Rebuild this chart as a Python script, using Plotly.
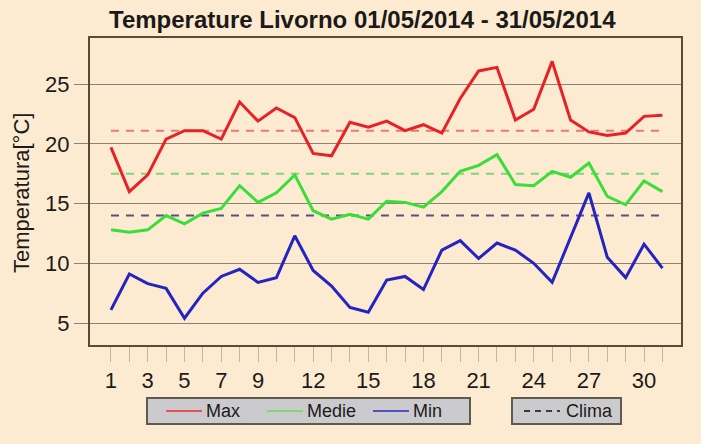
import plotly.graph_objects as go

# Daily temperatures, Livorno, May 2014
days = list(range(1, 32))
t_max = [19.7, 16.0, 17.4, 20.4, 21.1, 21.1, 20.4, 23.5, 21.9, 23.0, 22.2, 19.2, 19.0, 21.8, 21.4, 21.9,
         21.1, 21.6, 20.9, 23.8, 26.1, 26.4, 22.0, 22.9, 26.9, 22.0, 21.0, 20.7, 20.9, 22.3, 22.4]
t_medie = [12.8, 12.6, 12.8, 14.0, 13.3, 14.2, 14.6, 16.5, 15.1, 15.9, 17.4, 14.4, 13.7, 14.1, 13.7, 15.2,
           15.1, 14.7, 16.0, 17.7, 18.2, 19.1, 16.6, 16.5, 17.7, 17.2, 18.4, 15.6, 14.9, 16.9, 16.0]
t_min = [6.1, 9.1, 8.3, 7.9, 5.4, 7.5, 8.9, 9.5, 8.4, 8.8, 12.3, 9.4, 8.1, 6.3, 5.9, 8.6,
         8.9, 7.8, 11.1, 11.9, 10.4, 11.7, 11.1, 10.0, 8.4, 12.2, 15.9, 10.5, 8.8, 11.6, 9.6]

# Climatological reference values
clima_max = 21.1
clima_medie = 17.5
clima_min = 14.0

x_labels = [1, 3, 5, 7, 9, 12, 15, 18, 21, 24, 27, 30]
y_ticks = [5, 10, 15, 20, 25]

W, H = 701, 444
ML, MR, MT, MB = 90, 20, 38, 99
PW, PH = W - ML - MR, H - MT - MB


def px(x):
    return (x - ML) / PW


def py(y):
    return (H - MB - y) / PH


BG = "#fdebd1"
TXT = "#1c1a18"
FONT = "Liberation Sans, Arial, sans-serif"

fig = go.Figure()

clima = [(clima_max, "#e8787a"), (clima_medie, "#86d27a"), (clima_min, "#5a4f86")]
for val, col in clima:
    fig.add_trace(go.Scatter(x=[days[0], days[-1]], y=[val, val], mode="lines",
                             line=dict(color=col, width=2, dash="8px,7px"),
                             showlegend=False, hoverinfo="skip"))

series = [("Max", t_max, "#e62226"), ("Medie", t_medie, "#3ade38"), ("Min", t_min, "#2424c0")]
for name, vals, col in series:
    fig.add_trace(go.Scatter(x=days, y=vals, mode="lines", name=name,
                             line=dict(color=col, width=3), showlegend=False))

fig.update_xaxes(range=[-0.14, 32.01], tickmode="array", tickvals=days,
                 ticktext=[str(d) if d in x_labels else "" for d in days],
                 ticks="outside", ticklen=15, tickcolor="#c2b6a4", tickwidth=1,
                 showgrid=False, zeroline=False,
                 showline=True, linecolor="#5a4a36", linewidth=2, mirror=True,
                 tickfont=dict(family=FONT, size=22, color=TXT))
fig.update_yaxes(range=[3.16, 28.86], tickmode="array", tickvals=y_ticks,
                 ticks="outside", ticklen=14, tickcolor="#8c8274", tickwidth=1,
                 showgrid=True, gridcolor="#8c8274", gridwidth=1, zeroline=False,
                 showline=True, linecolor="#5a4a36", linewidth=2, mirror=True,
                 tickfont=dict(family=FONT, size=22, color=TXT))

annotations = [
    dict(text="<b>Temperature Livorno 01/05/2014 - 31/05/2014</b>", x=px(362), y=py(20),
         xref="paper", yref="paper", xanchor="center", yanchor="middle", showarrow=False,
         font=dict(family=FONT, size=24, color=TXT)),
    dict(text="Temperatura[°C]", x=px(21), y=py(193), xref="paper", yref="paper",
         xanchor="center", yanchor="middle", textangle=-90, showarrow=False,
         font=dict(family=FONT, size=22, color=TXT)),
]

shapes = []
# Legend boxes
for x0, x1 in [(147, 470), (512, 621)]:
    shapes.append(dict(type="rect", xref="paper", yref="paper",
                       x0=px(x0), x1=px(x1), y0=py(424), y1=py(398),
                       fillcolor="#cbcbce", line=dict(color="#5e5a52", width=2)))

legend_items = [("Max", "#e8505a", 166, 202, 204, "solid"),
                ("Medie", "#80d878", 267, 303, 305, "solid"),
                ("Min", "#5050c0", 373, 409, 411, "solid"),
                ("Clima", "#3a3a3a", 524, 560, 564, "6px,5px")]
for label, col, lx0, lx1, tx, dash in legend_items:
    shapes.append(dict(type="line", xref="paper", yref="paper",
                       x0=px(lx0), x1=px(lx1), y0=py(411), y1=py(411),
                       line=dict(color=col, width=2, dash=dash)))
    annotations.append(dict(text=label, x=px(tx), y=py(411), xref="paper", yref="paper",
                            xanchor="left", yanchor="middle", showarrow=False,
                            font=dict(family=FONT, size=18, color=TXT)))

fig.update_layout(width=W, height=H, margin=dict(l=ML, r=MR, t=MT, b=MB),
                  paper_bgcolor=BG, plot_bgcolor=BG, showlegend=False,
                  annotations=annotations, shapes=shapes)

fig.write_html("out.html")
